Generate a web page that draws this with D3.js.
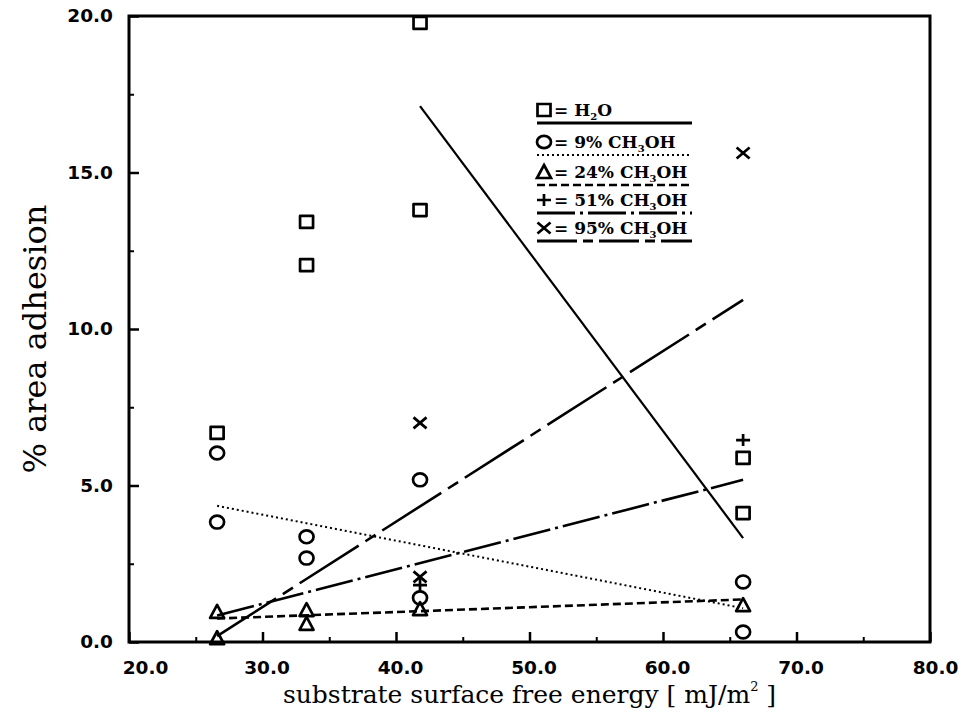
<!DOCTYPE html>
<html>
<head>
<meta charset="utf-8">
<script src="https://cdn.jsdelivr.net/npm/d3@7"></script>
<style>
  html, body { margin: 0; padding: 0; background: #fff; }
  svg { display: block; }
</style>
</head>
<body>
<svg id="chart" width="961" height="715"></svg>
<script>
// Surface free energy of the substrates [mJ/m^2]
const xTicks = [20, 30, 40, 50, 60, 70, 80];
const xMinorTicks = [25, 35, 45, 55, 65, 75];
const yTicks = [0, 5, 10, 15, 20];
const yMinorTicks = [2.5, 7.5, 12.5, 17.5];

// Measured % area adhesion, [surface free energy, adhesion]
const water = [[26.6, 6.68], [33.3, 13.42], [33.3, 12.04], [41.8, 19.78], [41.8, 13.8], [66.0, 5.88], [66.0, 4.12]];
const meoh9 = [[26.6, 6.04], [26.6, 3.83], [33.3, 3.36], [33.3, 2.68], [41.8, 5.18], [41.8, 1.41], [66.0, 1.92], [66.0, 0.32]];
const meoh24 = [[26.6, 0.96], [26.6, 0.12], [33.3, 1.02], [33.3, 0.58], [41.8, 1.05], [66.0, 1.18]];
const meoh51 = [[41.8, 1.82], [66.0, 6.45]];
const meoh95 = [[41.8, 7.0], [41.8, 2.08], [66.0, 15.62]];

// Least-squares fit lines, [start, end]
const waterFit = [[41.8, 17.12], [66.0, 3.32]];
const meoh9Fit = [[26.6, 4.35], [66.0, 1.08]];
const meoh24Fit = [[26.6, 0.75], [66.0, 1.36]];
const meoh51Fit = [[26.6, 0.85], [66.0, 5.18]];
const meoh95Fit = [[26.6, 0.19], [66.0, 10.93]];

// Legend entries: text pieces (plain / subscript)
const legendLabels = [
  [["= H", ""], ["2", "sub"], ["O", ""]],
  [["= 9% CH", ""], ["3", "sub"], ["OH", ""]],
  [["= 24% CH", ""], ["3", "sub"], ["OH", ""]],
  [["= 51% CH", ""], ["3", "sub"], ["OH", ""]],
  [["= 95% CH", ""], ["3", "sub"], ["OH", ""]]
];

const series = [
  { pts: water, fit: waterFit, marker: "square", dash: null, width: 2.2, legendWidth: 3.2, legendDash: null },
  { pts: meoh9, fit: meoh9Fit, marker: "circle", dash: "2,3", width: 2, legendWidth: 2, legendDash: "2,3" },
  { pts: meoh24, fit: meoh24Fit, marker: "triangle", dash: "8,4", width: 2.6, legendWidth: 2.6, legendDash: "8,4" },
  { pts: meoh51, fit: meoh51Fit, marker: "plus", dash: "38,5,3,5", width: 2.6, legendWidth: 3, legendDash: "38,5,3,5" },
  { pts: meoh95, fit: meoh95Fit, marker: "cross", dash: "70,8,12,8", width: 2.6, legendWidth: 3.2, legendDash: "40,6,10,6" }
];

const margin = { left: 129, right: 31, top: 16, bottom: 73 };
const W = 961, H = 715;
const svg = d3.select("#chart");

const x = d3.scaleLinear().domain([20, 80]).range([margin.left, W - margin.right]);
const y = d3.scaleLinear().domain([0, 20]).range([H - margin.bottom, margin.top]);

const tickFont = "'DejaVu Sans', sans-serif";
const serif = "'DejaVu Serif', serif";

// Axes with inward ticks
const gx = svg.append("g").attr("transform", `translate(0,${y(0)})`)
  .call(d3.axisBottom(x).tickValues(xTicks).tickSize(-10).tickPadding(19).tickFormat(d3.format(".1f")));
gx.select(".domain").remove();
gx.selectAll(".tick line").attr("stroke", "#000").attr("stroke-width", 2.5);
gx.selectAll(".tick text")
  .attr("font-family", tickFont).attr("font-weight", "bold").attr("font-size", 18.5).attr("fill", "#000")
  .attr("dx", d => d === 20 ? 16 : (d === 80 ? 5 : 4));

const gxm = svg.append("g").attr("transform", `translate(0,${y(0)})`)
  .call(d3.axisBottom(x).tickValues(xMinorTicks).tickSize(-5).tickFormat(""));
gxm.select(".domain").remove();
gxm.selectAll(".tick line").attr("stroke", "#000").attr("stroke-width", 2);

const gy = svg.append("g").attr("transform", `translate(${x(20)},0)`)
  .call(d3.axisLeft(y).tickValues(yTicks).tickSize(-10).tickPadding(16).tickFormat(d3.format(".1f")));
gy.select(".domain").remove();
gy.selectAll(".tick line").attr("stroke", "#000").attr("stroke-width", 2.5);
gy.selectAll(".tick text")
  .attr("font-family", tickFont).attr("font-weight", "bold").attr("font-size", 18.5).attr("fill", "#000");

const gym = svg.append("g").attr("transform", `translate(${x(20)},0)`)
  .call(d3.axisLeft(y).tickValues(yMinorTicks).tickSize(-5).tickFormat(""));
gym.select(".domain").remove();
gym.selectAll(".tick line").attr("stroke", "#000").attr("stroke-width", 2);

// Plot frame
svg.append("rect")
  .attr("x", x(20)).attr("y", y(20))
  .attr("width", x(80) - x(20)).attr("height", y(0) - y(20))
  .attr("fill", "none").attr("stroke", "#000").attr("stroke-width", 3);

// Axis titles
const xTitle = svg.append("text")
  .attr("x", (x(20) + x(80)) / 2).attr("y", 703)
  .attr("text-anchor", "middle")
  .attr("font-family", serif).attr("font-size", 25).attr("fill", "#000");
xTitle.append("tspan").text("substrate surface free energy [ mJ/m");
xTitle.append("tspan").attr("font-size", 13).attr("dy", -12).text("2");
xTitle.append("tspan").attr("dy", 12).text(" ]");

svg.append("text")
  .attr("transform", `translate(46,${(y(0) + y(20)) / 2 + 10}) rotate(-90)`)
  .attr("text-anchor", "middle")
  .attr("font-family", serif).attr("font-size", 32).attr("fill", "#000")
  .text("% area adhesion");

// Fit lines
const line = d3.line().x(d => x(d[0])).y(d => y(d[1]));
svg.append("g").selectAll("path")
  .data(series).join("path")
  .attr("d", s => line(s.fit))
  .attr("fill", "none").attr("stroke", "#000")
  .attr("stroke-width", s => s.width)
  .attr("stroke-dasharray", s => s.dash);

// Marker shapes (circles are drawn as ellipses)
function shape(type) {
  const p = d3.path();
  if (type === "square") { p.rect(-6.5, -6, 13, 12); }
  else if (type === "triangle") { p.moveTo(0, -7); p.lineTo(7, 6); p.lineTo(-7, 6); p.closePath(); }
  else if (type === "plus") { p.moveTo(-7, 0); p.lineTo(7, 0); p.moveTo(0, -6); p.lineTo(0, 6); }
  else if (type === "cross") { p.moveTo(-6.5, -5.5); p.lineTo(6.5, 5.5); p.moveTo(6.5, -5.5); p.lineTo(-6.5, 5.5); }
  return p.toString();
}

const markers = svg.append("g");
series.forEach(s => {
  const g = markers.append("g");
  if (s.marker === "circle") {
    g.selectAll("ellipse").data(s.pts).join("ellipse")
      .attr("cx", d => x(d[0])).attr("cy", d => y(d[1]))
      .attr("rx", 7).attr("ry", 6.4)
      .attr("fill", "none").attr("stroke", "#000").attr("stroke-width", 2.7);
  } else {
    g.selectAll("path").data(s.pts).join("path")
      .attr("transform", d => `translate(${x(d[0])},${y(d[1])})`)
      .attr("d", shape(s.marker))
      .attr("fill", "none").attr("stroke", "#000").attr("stroke-width", 2.7)
      .attr("stroke-linejoin", "round");
  }
});

// Legend
const legendX = 537, legendRight = 692;
const rowBase = [116, 148, 178, 206, 234];
const legend = svg.append("g");
series.forEach((s, i) => {
  const base = rowBase[i];
  const cy = base - 6;
  if (s.marker === "circle") {
    legend.append("ellipse").attr("cx", legendX + 7).attr("cy", cy).attr("rx", 7).attr("ry", 6.2)
      .attr("fill", "none").attr("stroke", "#000").attr("stroke-width", 2.7);
  } else {
    legend.append("path").attr("transform", `translate(${legendX + 7},${cy})`)
      .attr("d", shape(s.marker))
      .attr("fill", "none").attr("stroke", "#000").attr("stroke-width", 2.7);
  }
  const t = legend.append("text").attr("x", legendX + 17).attr("y", base)
    .attr("font-family", serif).attr("font-weight", "bold").attr("font-size", 17).attr("fill", "#000");
  let shift = 0;
  legendLabels[i].forEach(([str, kind]) => {
    const ts = t.append("tspan").text(str);
    if (kind === "sub") { ts.attr("font-size", 10).attr("dy", 4); shift = 4; }
    else if (shift) { ts.attr("dy", -shift); shift = 0; }
  });
  legend.append("line")
    .attr("x1", legendX).attr("x2", legendRight)
    .attr("y1", base + 7).attr("y2", base + 7)
    .attr("stroke", "#000").attr("stroke-width", s.legendWidth)
    .attr("stroke-dasharray", s.legendDash);
});
</script>
</body>
</html>
